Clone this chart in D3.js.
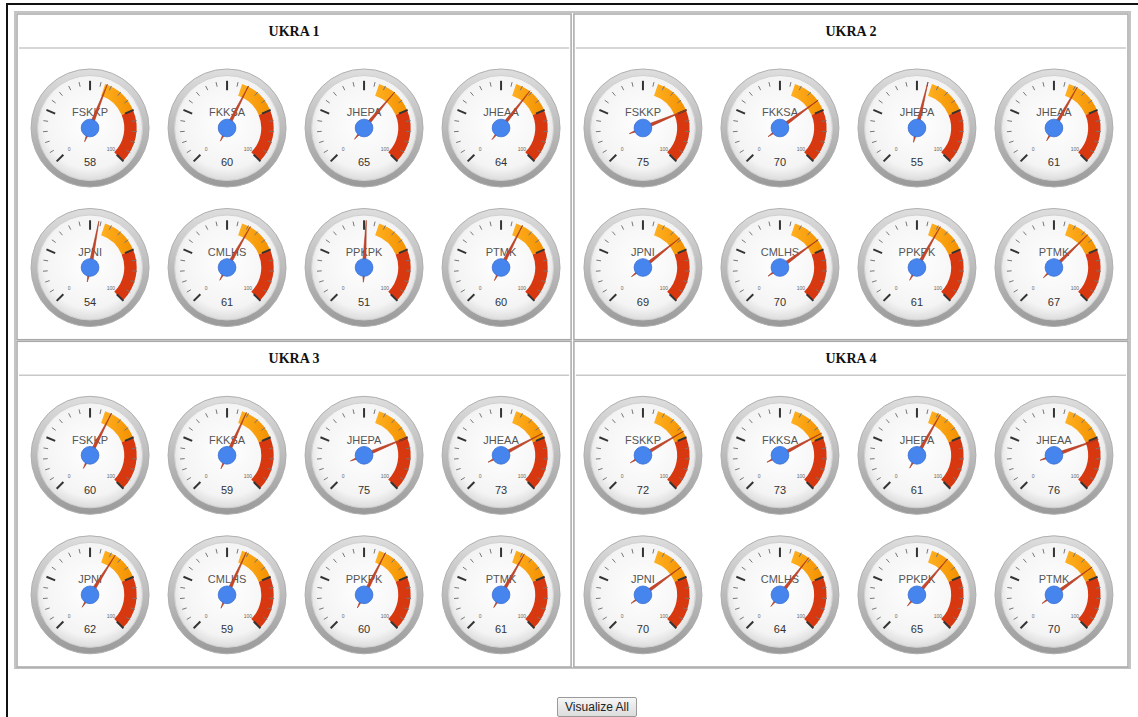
<!DOCTYPE html>
<html lang="en">
<head>
  <meta charset="UTF-8">
  <script src="https://d3js.org/d3.v7.min.js"></script>
  <title>UKRA gauges</title>
  <style>
    body { margin: 0; background: #fff; }
    #wrap { position: relative; width: 1138px; height: 717px; overflow: hidden; }
    svg { position: absolute; left: 0; top: 0; }
    #btn {
      position: absolute; left: 557px; top: 697px; width: 80px; height: 20px;
      font: 12px Arial, "Liberation Sans", sans-serif; color: #222;
      background: linear-gradient(#f6f6f6, #dcdcdc); border: 1px solid #9a9a9a;
      border-radius: 2px; padding: 0;
    }
  </style>
</head>
<body>
  <div id="wrap">
    <svg id="chart" width="1138" height="717"></svg>
    <button id="btn">Visualize All</button>
  </div>
  <script>
    // data
    const regions = ["UKRA 1", "UKRA 2", "UKRA 3", "UKRA 4"];
    const units = ["FSKKP", "FKKSA", "JHEPA", "JHEAA", "JPNI", "CMLHS", "PPKPK", "PTMK"];
    const ukra1Values = [58, 60, 65, 64, 54, 61, 51, 60];
    const ukra2Values = [75, 70, 55, 61, 69, 70, 61, 67];
    const ukra3Values = [60, 59, 75, 73, 62, 59, 60, 61];
    const ukra4Values = [72, 73, 61, 76, 70, 64, 65, 70];
    const allValues = [ukra1Values, ukra2Values, ukra3Values, ukra4Values];
    const gaugeMin = 0, gaugeMax = 100;
    const yellowFrom = 57, yellowTo = 75, redFrom = 75, redTo = 100;
    const majorTicks = [0, 25, 50, 75, 100];
    const endLabels = ["0", "100"];

    const svg = d3.select("#chart");
    const defs = svg.append("defs");

    const ringGrad = defs.append("linearGradient").attr("id", "ring")
      .attr("x1", 0).attr("y1", 0).attr("x2", 0).attr("y2", 1);
    ringGrad.append("stop").attr("offset", "0%").attr("stop-color", "#dedede");
    ringGrad.append("stop").attr("offset", "100%").attr("stop-color", "#999");

    const faceGrad = defs.append("radialGradient").attr("id", "face")
      .attr("cx", "50%").attr("cy", "45%").attr("r", "55%");
    faceGrad.append("stop").attr("offset", "0%").attr("stop-color", "#ffffff");
    faceGrad.append("stop").attr("offset", "80%").attr("stop-color", "#f4f4f4");
    faceGrad.append("stop").attr("offset", "100%").attr("stop-color", "#dcdcdc");

    const yGrad = defs.append("linearGradient").attr("id", "yband")
      .attr("x1", 0).attr("y1", 0).attr("x2", 1).attr("y2", 0);
    yGrad.append("stop").attr("offset", "0%").attr("stop-color", "#ffb020");
    yGrad.append("stop").attr("offset", "100%").attr("stop-color", "#f39000");

    // frame lines of the screenshot
    svg.append("line").attr("x1", 7).attr("y1", 4).attr("x2", 1138).attr("y2", 4)
      .attr("stroke", "#111").attr("stroke-width", 2);
    svg.append("line").attr("x1", 7).attr("y1", 3).attr("x2", 7).attr("y2", 717)
      .attr("stroke", "#111").attr("stroke-width", 2);

    // outer table
    svg.append("rect").attr("x", 15).attr("y", 12).attr("width", 1115).attr("height", 656)
      .attr("fill", "none").attr("stroke", "#c4c4c4").attr("stroke-width", 2);

    const quadX = d3.scaleBand().domain([0, 1]).range([17, 1128]).paddingInner(0.005);
    const quadY = d3.scaleBand().domain([0, 1]).range([14, 667]).paddingInner(0.005);

    const angle = d3.scaleLinear().domain([gaugeMin, gaugeMax]).range([-135, 135]);
    const rad = d => angle(d) * Math.PI / 180;
    const R = 59;

    const arc = d3.arc().innerRadius(R * 0.58).outerRadius(R * 0.79);

    regions.forEach((name, qi) => {
      const qx = quadX(qi % 2), qy = quadY(Math.floor(qi / 2));
      const qw = quadX.bandwidth(), qh = quadY.bandwidth();
      const q = svg.append("g");
      q.append("rect").attr("x", qx).attr("y", qy).attr("width", qw).attr("height", qh)
        .attr("fill", "none").attr("stroke", "#a9a9a9").attr("stroke-width", 1.5);
      q.append("line").attr("x1", qx + 2).attr("x2", qx + qw - 2)
        .attr("y1", qy + 34).attr("y2", qy + 34)
        .attr("stroke", "#c8c8c8").attr("stroke-width", 1.5);
      q.append("text").attr("x", qx + qw / 2).attr("y", qy + 22)
        .attr("text-anchor", "middle")
        .style("font", "bold 14px 'Liberation Serif', 'Times New Roman', serif")
        .style("fill", "#111").text(name);

      const cx = qx + qw / 2 + (qi % 2 === 0 ? 1.5 : -2.5);
      const colX = d3.scalePoint().domain(d3.range(4)).range([cx - 205.5, cx + 205.5]);
      const rowY = d3.scalePoint().domain([0, 1]).range([qy + 114, qy + 253.5]);

      units.forEach((u, i) => {
        const v = allValues[qi][i];
        const g = q.append("g")
          .attr("transform", `translate(${colX(i % 4)},${rowY(Math.floor(i / 4))})`);

        g.append("circle").attr("r", R).attr("fill", "url(#ring)")
          .attr("stroke", "#b0b0b0").attr("stroke-width", 1);
        g.append("circle").attr("r", R * 0.89).attr("fill", "url(#face)")
          .attr("stroke", "#d0d0d0").attr("stroke-width", 1);

        g.append("path").attr("d", arc({ startAngle: rad(yellowFrom), endAngle: rad(yellowTo) }))
          .attr("fill", "url(#yband)");
        g.append("path").attr("d", arc({ startAngle: rad(redFrom), endAngle: rad(redTo) }))
          .attr("fill", "#d8380f");

        // minor ticks
        angle.ticks(20).filter(t => !majorTicks.includes(t)).forEach(t => {
          const a = rad(t);
          g.append("line")
            .attr("x1", Math.sin(a) * R * 0.72).attr("y1", -Math.cos(a) * R * 0.72)
            .attr("x2", Math.sin(a) * R * 0.8).attr("y2", -Math.cos(a) * R * 0.8)
            .attr("stroke", "#777").attr("stroke-width", 1);
        });
        majorTicks.forEach(t => {
          const a = rad(t);
          g.append("line")
            .attr("x1", Math.sin(a) * R * 0.64).attr("y1", -Math.cos(a) * R * 0.64)
            .attr("x2", Math.sin(a) * R * 0.8).attr("y2", -Math.cos(a) * R * 0.8)
            .attr("stroke", "#333").attr("stroke-width", 2);
        });

        endLabels.forEach((lab, k) => {
          const a = rad(k === 0 ? gaugeMin : gaugeMax);
          g.append("text")
            .attr("x", Math.sin(a) * R * 0.5).attr("y", -Math.cos(a) * R * 0.5 + 2)
            .attr("text-anchor", "middle")
            .style("font", "5px Arial, 'Liberation Sans', sans-serif")
            .style("fill", "#666").text(lab);
        });

        g.append("text").attr("y", -R * 0.2).attr("text-anchor", "middle")
          .style("font", "11px Arial, 'Liberation Sans', sans-serif")
          .style("fill", "#555").text(u);
        g.append("text").attr("y", R * 0.65).attr("text-anchor", "middle")
          .style("font", "11px Arial, 'Liberation Sans', sans-serif")
          .style("fill", "#333").text(v);

        // needle
        const a = rad(v);
        const tip = R * 0.8, tail = R * 0.25, w = 1.8;
        const pts = [
          [Math.sin(a) * tip, -Math.cos(a) * tip],
          [Math.cos(a) * w, Math.sin(a) * w],
          [-Math.sin(a) * tail, Math.cos(a) * tail],
          [-Math.cos(a) * w, -Math.sin(a) * w]
        ];
        g.append("path").attr("d", d3.line()(pts) + "Z")
          .attr("fill", "#c9452a").attr("stroke", "#a8361a").attr("stroke-width", 0.6);
        g.append("circle").attr("r", R * 0.15).attr("fill", "#4684ee")
          .attr("stroke", "#3a6fd0").attr("stroke-width", 0.8);
      });
    });
  </script>
</body>
</html>
